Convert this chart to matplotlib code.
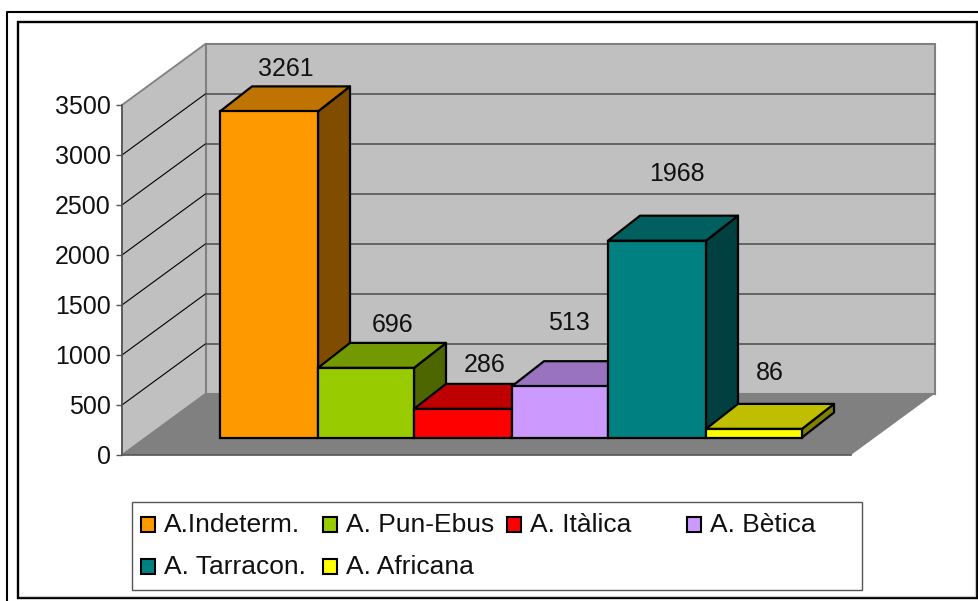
import matplotlib
matplotlib.use('Agg')
import matplotlib.pyplot as plt
from matplotlib.patches import Polygon, Rectangle

plt.rcParams['font.family'] = ['Liberation Sans', 'DejaVu Sans']

# Chart data
categories = ['A.Indeterm.', 'A. Pun-Ebus', 'A. Itàlica', 'A. Bètica', 'A. Tarracon.', 'A. Africana']
values = [3261, 696, 286, 513, 1968, 86]
y_ticks = [0, 500, 1000, 1500, 2000, 2500, 3000, 3500]

# Colours of each bar: front, top, side
front_colors = ['#FF9900', '#99CC00', '#FF0000', '#CC99FF', '#008080', '#FFFF00']
top_colors = ['#BF7300', '#739900', '#BF0000', '#9973BF', '#006060', '#BFBF00']
side_colors = ['#804D00', '#4D6600', '#800000', '#664D80', '#004040', '#808000']

# Layout, x in pixels, heights in chart units (1 pixel = 10 units)
bar_edges = [220, 318, 414, 512, 608, 706, 802]
bar_base = 175
bar_depth = (32, 250)
wall_left = 122
wall_right = 851
wall_depth = (84, 615)
label_pos = [(286, 3860), (393, 1300), (485, 905), (569, 1325), (677, 2810), (770, 825)]
legend_swatch_x = [141, 323, 507, 687]
legend_row_y = [517, 559]


def draw_walls(ax):
    dx, dy = wall_depth
    top = y_ticks[-1]
    ax.add_patch(Polygon([(wall_left, 0), (wall_left, top), (wall_left + dx, top + dy), (wall_left + dx, dy)],
                         facecolor='#C0C0C0', edgecolor='#808080', lw=1.3, zorder=1))
    ax.add_patch(Rectangle((wall_left + dx, dy), wall_right - wall_left, top,
                           facecolor='#C0C0C0', edgecolor='#808080', lw=1.5, zorder=1))
    ax.add_patch(Polygon([(wall_left, 0), (wall_left + dx, dy), (wall_right + dx, dy), (wall_right, 0)],
                         facecolor='#808080', edgecolor='none', zorder=2))
    ax.plot([wall_left, wall_right], [0, 0], color='#555555', lw=1.2, zorder=3)
    for tick in y_ticks[1:-1]:
        ax.plot([wall_left, wall_left + dx], [tick, tick + dy], color='black', lw=0.8, zorder=3)
        ax.plot([wall_left + dx, wall_right + dx], [tick + dy, tick + dy], color='#555555', lw=1.2, zorder=3)


def draw_bars(ax):
    dx, dy = bar_depth
    for i, value in enumerate(values):
        x0, x1 = bar_edges[i], bar_edges[i + 1]
        top = bar_base + value
        z = 10 + i
        ax.add_patch(Polygon([(x1, bar_base), (x1 + dx, bar_base + dy), (x1 + dx, top + dy), (x1, top)],
                             facecolor=side_colors[i], edgecolor='black', lw=1.6, zorder=z, joinstyle='round'))
        ax.add_patch(Polygon([(x0, top), (x0 + dx, top + dy), (x1 + dx, top + dy), (x1, top)],
                             facecolor=top_colors[i], edgecolor='black', lw=1.6, zorder=z, joinstyle='round'))
        ax.bar(x0, value, width=x1 - x0, bottom=bar_base, align='edge', color=front_colors[i],
               edgecolor='black', linewidth=1.6, zorder=z + 0.5)
        ax.text(label_pos[i][0], label_pos[i][1], str(value), ha='center', va='center',
                fontsize=18, color='#111111', zorder=30)


def draw_frame_and_legend(bg):
    # outer line on the left and top, inner border with its light shadow
    bg.plot([7, 7, 979], [601, 11.5, 11.5], color='black', lw=1.5)
    bg.add_patch(Rectangle((18, 22), 959.5, 575.5, facecolor='white', edgecolor='black', lw=1.7))
    bg.plot([20, 975.5, 975.5], [595.5, 595.5, 24], color='#CCCCCC', lw=0.9)
    bg.add_patch(Rectangle((132, 502), 730, 88, facecolor='white', edgecolor='#555555', lw=1))
    for i, name in enumerate(categories):
        x = legend_swatch_x[i % 4]
        y = legend_row_y[i // 4]
        bg.add_patch(Rectangle((x, y), 14.5, 14.5, facecolor=front_colors[i], edgecolor='black', lw=1.5))
        bg.text(x + 23, y + 15, name, ha='left', va='baseline', fontsize=19, color='#111111')


def main():
    fig = plt.figure(figsize=(9.79, 6.01), dpi=100)

    # Background axes in pixels for the borders and the legend
    bg = fig.add_axes([0, 0, 1, 1])
    bg.set_xlim(0, 979)
    bg.set_ylim(601, 0)
    bg.axis('off')
    draw_frame_and_legend(bg)

    # Chart axes, x in pixels and y in chart units
    ax = fig.add_axes([0, 0, 1, 1])
    ax.patch.set_visible(False)
    ax.set_xlim(0, 979)
    ax.set_ylim(-1460, 4550)
    for side in ['top', 'right', 'bottom']:
        ax.spines[side].set_visible(False)
    ax.spines['left'].set_position(('data', wall_left))
    ax.spines['left'].set_bounds(0, y_ticks[-1])
    ax.spines['left'].set_color('#555555')
    ax.spines['left'].set_linewidth(1.2)
    ax.spines['left'].set_zorder(6)
    ax.set_xticks([])
    ax.set_yticks(y_ticks)
    ax.tick_params(axis='y', length=4.5, width=1.0, color='#555555', labelsize=18, labelcolor='#111111', pad=3.5)

    draw_walls(ax)
    draw_bars(ax)

    fig.savefig('out.png', dpi=100)
    plt.close(fig)


if __name__ == "__main__":
    main()
